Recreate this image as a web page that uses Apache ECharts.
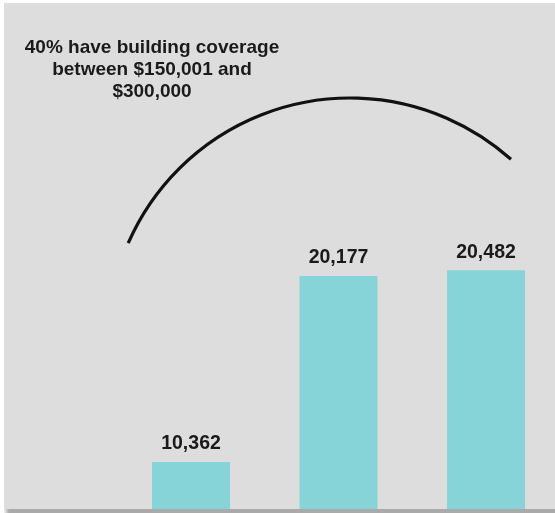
<!DOCTYPE html>
<html>
<head>
<meta charset="utf-8">
<style>
  html, body { margin: 0; padding: 0; background: #ffffff; }
  #chart { width: 555px; height: 513px; }
</style>
<script src="https://cdn.jsdelivr.net/npm/echarts@6/dist/echarts.min.js"></script>
</head>
<body>
<div id="chart"></div>
<script>
// Policy counts by building-coverage band
const categories = ['$75,001–$150,000', '$150,001–$225,000', '$225,001–$300,000'];
const policyCounts = [10362, 20177, 20482];
const noteLines = ['40% have building coverage', 'between $150,001 and', '$300,000'];

const FONT = '"Liberation Sans", Arial, Helvetica, sans-serif';
const chart = echarts.init(document.getElementById('chart'), null, { renderer: 'canvas' });

chart.setOption({
  animation: false,
  backgroundColor: '#ffffff',
  // value axis is cut off below the smallest bar, as in the printed panel
  grid: { left: 191, top: 184.6, width: 295, bottom: 3, containLabel: false },
  xAxis: {
    type: 'category',
    data: categories,
    boundaryGap: false,
    axisLine: { show: false },
    axisTick: { show: false },
    axisLabel: { show: false },
    splitLine: { show: false }
  },
  yAxis: {
    type: 'value',
    min: 7830,
    max: 25000,
    show: false,
    splitLine: { show: false }
  },
  graphic: [
    // panel background
    { type: 'rect', z: -10, silent: true, shape: { x: 4, y: 3, width: 551, height: 507 }, style: { fill: '#dddddd' } },
    // shadow strip along the bottom edge
    { type: 'rect', z: 100, silent: true, shape: { x: 9, y: 509, width: 546, height: 4 },
      style: { fill: '#aaaaaa' } },
    { type: 'rect', z: 100, silent: true, shape: { x: 4, y: 509, width: 5, height: 4 },
      style: { fill: new echarts.graphic.LinearGradient(0, 0, 1, 0, [
        { offset: 0, color: '#f0f0f0' }, { offset: 1, color: '#aaaaaa' }]) } },
    // bracket arc over the two upper bands
    { type: 'arc', z: 50, silent: true,
      shape: { cx: 350, cy: 340, r: 242, startAngle: -2.730, endAngle: -0.843, clockwise: true },
      style: { stroke: '#111111', lineWidth: 3.2, fill: null, lineCap: 'butt' } },
    // annotation
    { type: 'text', z: 50, silent: true, x: 152, y: 36.5,
      style: { text: noteLines.join('\n'), fill: '#1a1a1a', font: 'bold 19px ' + FONT,
               align: 'center', verticalAlign: 'top', lineHeight: 22 } }
  ],
  series: [{
    type: 'bar',
    data: policyCounts,
    barWidth: 78,
    itemStyle: { color: '#86d4d8' },
    label: {
      show: true,
      position: 'top',
      distance: 8,
      color: '#1a1a1a',
      fontFamily: FONT,
      fontWeight: 'bold',
      fontSize: 19.5,
      formatter: p => p.value.toLocaleString('en-US')
    }
  }]
});
</script>
</body>
</html>
